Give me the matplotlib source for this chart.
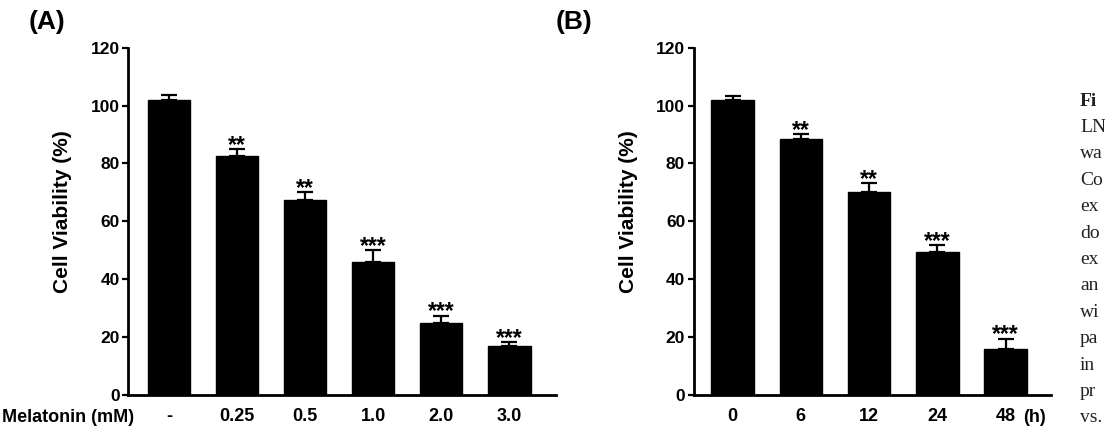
import matplotlib
matplotlib.use("Agg")
import matplotlib.pyplot as plt
import matplotlib.transforms as mtransforms
import numpy as np

# ---- data ----
a_labels = ["-", "0.25", "0.5", "1.0", "2.0", "3.0"]
a_values = [102.0, 82.5, 67.5, 46.0, 25.0, 16.8]
a_errors = [1.5, 2.5, 2.6, 4.0, 2.4, 1.6]
a_stars = ["", "**", "**", "***", "***", "***"]

b_labels = ["0", "6", "12", "24", "48"]
b_values = [102.0, 88.5, 70.2, 49.5, 16.0]
b_errors = [1.4, 1.7, 3.1, 2.4, 3.5]
b_stars = ["", "**", "**", "***", "***"]

y_ticks = [0, 20, 40, 60, 80, 100, 120]

caption_lines = ["Fi", "LN", "wa", "Co", "ex", "do", "ex", "an",
                 "wi", "pa", "in", "pr", "vs."]

plt.rcParams['font.family'] = ['Liberation Sans', 'DejaVu Sans']
plt.rcParams['font.weight'] = 'bold'

W, H = 1105, 444
fig = plt.figure(figsize=(W / 100, H / 100), dpi=100)


def px_ax(left, right, bottom=395, top=47.7):
    return [left / W, 1 - bottom / H, (right - left) / W, (bottom - top) / H]


def draw_panel(ax, labels, values, errors, stars, xlim):
    x = np.arange(len(values))
    ax.bar(x, values, width=0.62, color='black', edgecolor='black', zorder=2)
    ax.errorbar(x, values, yerr=[np.zeros(len(values)), errors], fmt='none',
                ecolor='black', elinewidth=1.6, capsize=6, capthick=1.6, zorder=3)
    for xi, v, e, s in zip(x, values, errors, stars):
        if s:
            ax.annotate(s, xy=(xi, v + e), xytext=(0, -2), textcoords='offset points',
                        ha='center', va='baseline', fontsize=16.5, fontweight='bold')
    ax.set_xlim(*xlim)
    ax.set_ylim(0, 120)
    ax.set_yticks(y_ticks)
    ax.set_yticklabels([str(t) for t in y_ticks], fontsize=12.5, fontweight='bold')
    ax.set_xticks(x)
    ax.set_xticklabels(labels, fontsize=13, fontweight='bold')
    for sp in ['top', 'right']:
        ax.spines[sp].set_visible(False)
    for sp in ['left', 'bottom']:
        ax.spines[sp].set_linewidth(2.0)
    ax.tick_params(axis='y', direction='out', length=4, width=1.6, pad=2)
    ax.tick_params(axis='x', length=0, pad=9)


axA = fig.add_axes(px_ax(128, 556))
draw_panel(axA, a_labels, a_values, a_errors, a_stars, (-0.603, 5.684))

axB = fig.add_axes(px_ax(693.5, 1051))
draw_panel(axB, b_labels, b_values, b_errors, b_stars, (-0.572, 4.664))

# "(h)" unit after the last tick label of panel B
trans = mtransforms.offset_copy(axB.get_xaxis_transform(), fig=fig, x=17, y=0, units='dots')
axB.text(len(b_values) - 1, -(417 - 395) / 347.3, "(h)", transform=trans,
         ha='left', va='center', fontsize=13, fontweight='bold')

# axis titles
fig.text(62.5 / W, 1 - 212 / H, "Cell Viability (%)", rotation=90, ha='center', va='center',
         fontsize=15, fontweight='bold')
fig.text(628 / W, 1 - 212 / H, "Cell Viability (%)", rotation=90, ha='center', va='center',
         fontsize=15, fontweight='bold')
fig.text(2 / W, 1 - 417 / H, "Melatonin (mM)", ha='left', va='center',
         fontsize=13, fontweight='bold')

# panel labels
fig.text(47.5 / W, 1 - 22 / H, "(A)", ha='center', va='center', fontsize=19, fontweight='bold')
fig.text(574 / W, 1 - 22 / H, "(B)", ha='center', va='center', fontsize=19, fontweight='bold')

# caption fragments at the right edge (the reference crops this caption)
for i, line in enumerate(caption_lines):
    fig.text(1080 / W, 1 - (101 + i * 26.4) / H, line, ha='left', va='center',
             fontsize=14, family=['Liberation Serif', 'DejaVu Serif'],
             fontweight='bold' if i == 0 else 'normal', color='#222222')

fig.savefig("out.png", dpi=100)
